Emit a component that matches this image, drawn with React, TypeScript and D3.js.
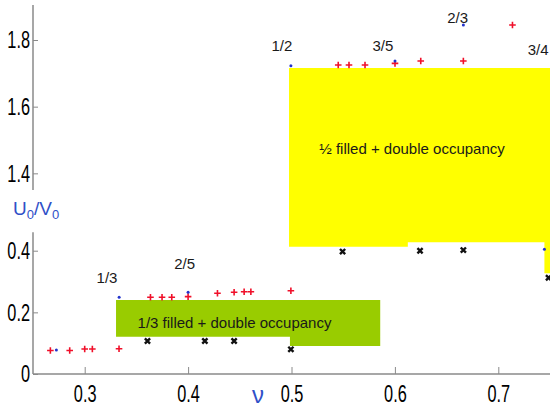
import React, { useEffect, useRef } from "react";
import * as d3 from "d3";

// filling factor nu and U0/V0
const xTicks = [0.3, 0.4, 0.5, 0.6, 0.7];
const lowTicks = [0, 0.2, 0.4];
const highTicks = [1.4, 1.6, 1.8];

// red crosses, lower panel
const redLowNu = [0.2668, 0.2855, 0.3, 0.3074, 0.3332, 0.3636, 0.3748, 0.3842, 0.4, 0.4284, 0.4445, 0.4542, 0.4607, 0.4994];
const redLowU = [0.076, 0.076, 0.081, 0.081, 0.082, 0.249, 0.249, 0.249, 0.251, 0.262, 0.265, 0.267, 0.267, 0.27];
// red crosses, upper panel
const redHighNu = [0.5452, 0.5556, 0.5711, 0.6001, 0.625, 0.6662, 0.7137];
const redHighU = [1.725, 1.725, 1.725, 1.73, 1.737, 1.737, 1.845];

// blue dots
const blueLowNu = [0.2726, 0.3333, 0.4, 0.7446];
const blueLowU = [0.078, 0.249, 0.265, 0.405];
const blueHighNu = [0.4994, 0.6001, 0.6662];
const blueHighU = [1.723, 1.737, 1.845];

// black x marks (lower panel)
const blackNu = [0.3607, 0.4162, 0.4445, 0.4994, 0.5494, 0.6243, 0.6662, 0.7486];
const blackU = [0.107, 0.107, 0.107, 0.08, 0.397, 0.4, 0.402, 0.312];

// fraction labels
const fracText = ["1/3", "2/5", "1/2", "3/5", "2/3", "3/4"];
const fracNu = [0.3216, 0.3966, 0.4907, 0.5884, 0.6606, 0.7385];
const fracU = [0.296, 0.3406, 1.768, 1.768, 1.852, 1.755];
const fracPanel = ["low", "low", "high", "high", "high", "high"];

// shaded regions
const greenNu = [0.3303, 0.4985, 0.5858];
const greenTop = 0.24;
const greenBottom = [0.121, 0.0908];
const greenLabel = "1/3 filled + double occupancy";

const yellowNu = [0.4976, 0.6125, 0.7446, 0.76];
const yellowTop = 1.716;
const yellowBottom = [0.413, 0.427, 0.327];
const yellowLabel = "½ filled + double occupancy";

export default function App() {
    const svgRef = useRef<SVGSVGElement>(null);

    useEffect(() => {
        const width = 550;
        const height = 412;
        const svg = d3.select(svgRef.current);
        svg.selectAll("*").remove();
        svg.attr("width", width).attr("height", height);

        const x = d3.scaleLinear().domain([0.25, 0.75]).range([33, 550]);
        const yLow = d3.scaleLinear().domain([0, 0.46]).range([374, 232.2]);
        const yHigh = d3.scaleLinear().domain([1.35, 1.905]).range([190, 5]);

        const font = "'Liberation Sans', Arial, sans-serif";
        const axisGray = "#8a8a8a";

        // yellow region (spans the axis break)
        const yp: [number, number][] = [[x(yellowNu[0]), yHigh(yellowTop)], [x(yellowNu[3]), yHigh(yellowTop)]];
        for (let i = yellowBottom.length - 1; i >= 0; i--) {
            yp.push([x(yellowNu[i + 1]), yLow(yellowBottom[i])]);
            yp.push([x(yellowNu[i]), yLow(yellowBottom[i])]);
        }
        svg.append("path")
            .attr("d", d3.line()(yp) + "Z")
            .attr("fill", "#ffff00");

        // green region
        const gp: [number, number][] = [[x(greenNu[0]), yLow(greenTop)], [x(greenNu[2]), yLow(greenTop)]];
        for (let i = greenBottom.length - 1; i >= 0; i--) {
            gp.push([x(greenNu[i + 1]), yLow(greenBottom[i])]);
            gp.push([x(greenNu[i]), yLow(greenBottom[i])]);
        }
        svg.append("path")
            .attr("d", d3.line()(gp) + "Z")
            .attr("fill", "#99cc00");

        svg.append("text")
            .attr("x", 234.5).attr("y", 328)
            .attr("text-anchor", "middle")
            .attr("font-family", font).attr("font-size", 15)
            .attr("fill", "#1a1a1a")
            .text(greenLabel);

        svg.append("text")
            .attr("x", 412).attr("y", 154)
            .attr("text-anchor", "middle")
            .attr("font-family", font).attr("font-size", 15)
            .attr("fill", "#1a1a1a")
            .text(yellowLabel);

        // axes
        const styleAxis = (g: any, yTick: boolean) => {
            g.select(".domain").remove();
            g.selectAll(".tick line").attr("stroke", axisGray);
            g.selectAll(".tick text")
                .attr("font-family", font)
                .attr("font-size", 24)
                .attr("fill", "#000");
            if (yTick) {
                g.selectAll(".tick text")
                    .attr("x", 0)
                    .attr("transform", "translate(-3,0) scale(0.68,1)");
            } else {
                g.selectAll(".tick text").attr("transform", "scale(0.68,1)");
            }
        };

        svg.append("g")
            .attr("transform", "translate(0,374)")
            .call(d3.axisBottom(x).tickValues(xTicks).tickSize(-7).tickPadding(11).tickFormat(d3.format(".1f")))
            .call((g: any) => styleAxis(g, false));

        svg.append("g")
            .attr("transform", "translate(33,0)")
            .call(d3.axisLeft(yLow).tickValues(lowTicks).tickSize(-5).tickFormat((d: any) => d === 0 ? "0" : d3.format(".1f")(d)))
            .call((g: any) => styleAxis(g, true));

        svg.append("g")
            .attr("transform", "translate(33,0)")
            .call(d3.axisLeft(yHigh).tickValues(highTicks).tickSize(-5).tickFormat(d3.format(".1f")))
            .call((g: any) => styleAxis(g, true));

        // axis lines
        svg.append("line")
            .attr("x1", 33).attr("x2", 550).attr("y1", 374).attr("y2", 374)
            .attr("stroke", axisGray).attr("stroke-width", 1.5);
        svg.append("line")
            .attr("x1", 33).attr("x2", 33).attr("y1", yLow(0)).attr("y2", yLow(0.46))
            .attr("stroke", axisGray).attr("stroke-width", 1.5);
        svg.append("line")
            .attr("x1", 33).attr("x2", 33).attr("y1", yHigh(1.35)).attr("y2", yHigh(1.905))
            .attr("stroke", axisGray).attr("stroke-width", 1.5);

        // axis titles
        const yt = svg.append("text")
            .attr("x", 13).attr("y", 215)
            .attr("font-family", font).attr("font-size", 19)
            .attr("fill", "#3050c8");
        yt.append("tspan").text("U");
        yt.append("tspan").attr("font-size", 13).attr("dy", 4).text("0");
        yt.append("tspan").attr("dy", -4).text("/V");
        yt.append("tspan").attr("font-size", 13).attr("dy", 4).text("0");

        svg.append("text")
            .attr("x", 258).attr("y", 403)
            .attr("text-anchor", "middle")
            .attr("font-family", font).attr("font-size", 24)
            .attr("fill", "#3050c8")
            .text("ν");

        // fraction labels
        svg.selectAll(".frac")
            .data(fracText)
            .enter()
            .append("text")
            .attr("class", "frac")
            .attr("x", (d, i) => x(fracNu[i]))
            .attr("y", (d, i) => fracPanel[i] === "low" ? yLow(fracU[i]) : yHigh(fracU[i]))
            .attr("text-anchor", "middle")
            .attr("font-family", font).attr("font-size", 15)
            .attr("fill", "#1a1a1a")
            .text(d => d);

        // black x marks
        const s = 2.6;
        svg.selectAll(".xm")
            .data(blackNu)
            .enter()
            .append("path")
            .attr("class", "xm")
            .attr("d", (d, i) => {
                const cx = x(d), cy = yLow(blackU[i]);
                return `M${cx - s},${cy - s}L${cx + s},${cy + s}M${cx - s},${cy + s}L${cx + s},${cy - s}`;
            })
            .attr("stroke", "#111").attr("stroke-width", 2.4);

        // red crosses
        const p = 3.3;
        const plus = (cx: number, cy: number) => `M${cx - p},${cy}L${cx + p},${cy}M${cx},${cy - p}L${cx},${cy + p}`;
        svg.selectAll(".rl")
            .data(redLowNu)
            .enter()
            .append("path")
            .attr("class", "rl")
            .attr("d", (d, i) => plus(x(d), yLow(redLowU[i])))
            .attr("stroke", "#f0102a").attr("stroke-width", 1.6);
        svg.selectAll(".rh")
            .data(redHighNu)
            .enter()
            .append("path")
            .attr("class", "rh")
            .attr("d", (d, i) => plus(x(d), yHigh(redHighU[i])))
            .attr("stroke", "#f0102a").attr("stroke-width", 1.6);

        // blue dots
        svg.selectAll(".bl")
            .data(blueLowNu)
            .enter()
            .append("circle")
            .attr("class", "bl")
            .attr("cx", d => x(d))
            .attr("cy", (d, i) => yLow(blueLowU[i]))
            .attr("r", 1.5)
            .attr("fill", "#2233cc");
        svg.selectAll(".bh")
            .data(blueHighNu)
            .enter()
            .append("circle")
            .attr("class", "bh")
            .attr("cx", d => x(d))
            .attr("cy", (d, i) => yHigh(blueHighU[i]))
            .attr("r", 1.5)
            .attr("fill", "#2233cc");
    }, []);

    return (
        <svg
            ref={svgRef}
            style={{ position: "absolute", left: 0, top: 0, display: "block", background: "#fff" }}
        ></svg>
    );
}
